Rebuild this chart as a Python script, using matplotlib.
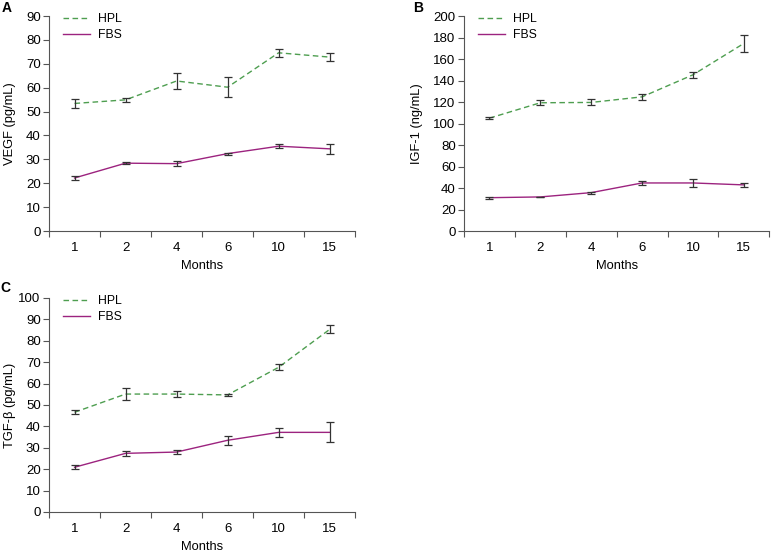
import numpy as np
import matplotlib
matplotlib.use("Agg")
import matplotlib.pyplot as plt
from matplotlib.lines import Line2D

plt.rcParams['font.family'] = ['Liberation Sans', 'DejaVu Sans']

months = ["1", "2", "4", "6", "10", "15"]

vegf_hpl = [53.4, 54.9, 62.8, 60.2, 74.6, 72.8]
vegf_hpl_err = [2.0, 0.7, 3.5, 4.1, 1.7, 1.7]
vegf_fbs = [22.2, 28.4, 28.2, 32.4, 35.5, 34.4]
vegf_fbs_err = [0.9, 0.5, 1.0, 0.4, 0.8, 2.2]

igf_hpl = [105.0, 119.3, 119.6, 124.8, 145.3, 174.5]
igf_hpl_err = [1.0, 2.5, 2.8, 2.6, 2.8, 7.8]
igf_fbs = [31.0, 31.7, 35.7, 44.7, 44.7, 42.9]
igf_fbs_err = [1.0, 0.0, 1.0, 1.9, 3.9, 2.2]

tgf_hpl = [46.6, 55.1, 55.1, 54.7, 67.6, 85.3]
tgf_hpl_err = [0.9, 2.6, 1.6, 0.5, 1.4, 1.9]
tgf_fbs = [20.9, 27.4, 28.0, 33.5, 37.2, 37.2]
tgf_fbs_err = [1.0, 1.2, 0.8, 2.0, 2.1, 4.7]

GREEN = "#4e9e50"
PURPLE = "#9c237f"
ERR = "#333333"

fig = plt.figure(figsize=(7.71, 5.52), dpi=100)


def panel(rect, hpl, hpl_err, fbs, fbs_err, ymax, ystep, ylabel, letter,
          label_x, letter_xy):
    ax = fig.add_axes(rect)
    x = np.arange(len(months))
    ax.plot(x, hpl, color=GREEN, lw=1.0, ls=(0, (4, 2.5)), zorder=2)
    ax.plot(x, fbs, color=PURPLE, lw=1.0, zorder=2)
    for y, e in ((hpl, hpl_err), (fbs, fbs_err)):
        ax.errorbar(x, y, yerr=e, fmt="none", ecolor=ERR, elinewidth=0.9,
                    capsize=3, capthick=0.9, zorder=3)
    ax.set_xlim(-0.5, len(months) - 0.5)
    ax.set_ylim(0, ymax)
    ax.set_yticks(np.arange(0, ymax + 1, ystep))
    ax.set_xticks(x)
    ax.set_xticklabels(months)
    ax.set_xticks(np.arange(-0.5, len(months)), minor=True)
    ax.tick_params(axis="x", which="major", length=0, pad=8, labelsize=9.5)
    ax.tick_params(axis="x", which="minor", length=4, width=0.8, color="#555555")
    ax.tick_params(axis="y", length=4, width=0.8, color="#555555", labelsize=9.5, pad=2)
    for s in ("top", "right"):
        ax.spines[s].set_visible(False)
    for s in ("left", "bottom"):
        ax.spines[s].set_color("#555555")
        ax.spines[s].set_linewidth(0.8)
    ax.set_xlabel("Months", fontsize=9.3, labelpad=4)
    ax.set_ylabel(ylabel, fontsize=9.3)
    ax.yaxis.set_label_coords(label_x, 0.5)
    handles = [Line2D([], [], color=GREEN, lw=1.0, ls=(0, (4, 2.5))),
               Line2D([], [], color=PURPLE, lw=1.0)]
    ax.legend(handles, ["HPL", "FBS"], loc="upper left", bbox_to_anchor=(0.023, 1.046),
              frameon=False, fontsize=8.8, handlelength=2.2, handletextpad=0.6,
              labelspacing=0.3, borderaxespad=0.2)
    ax.text(letter_xy[0], letter_xy[1], letter, transform=ax.transAxes, fontsize=10,
            fontweight="bold", va="center", ha="center")
    return ax


panel([0.0636, 0.5815, 0.397, 0.3895], vegf_hpl, vegf_hpl_err, vegf_fbs, vegf_fbs_err,
      90, 10, "VEGF (pg/mL)", "A", -0.108, (-0.137, 1.037))
panel([0.6018, 0.5815, 0.396, 0.3895], igf_hpl, igf_hpl_err, igf_fbs, igf_fbs_err,
      200, 20, "IGF-1 (ng/mL)", "B", -0.134, (-0.149, 1.037))
panel([0.0636, 0.0725, 0.397, 0.3877], tgf_hpl, tgf_hpl_err, tgf_fbs, tgf_fbs_err,
      100, 10, "TGF-β (pg/mL)", "C", -0.108, (-0.144, 1.047))

fig.savefig("out.png", dpi=100)
